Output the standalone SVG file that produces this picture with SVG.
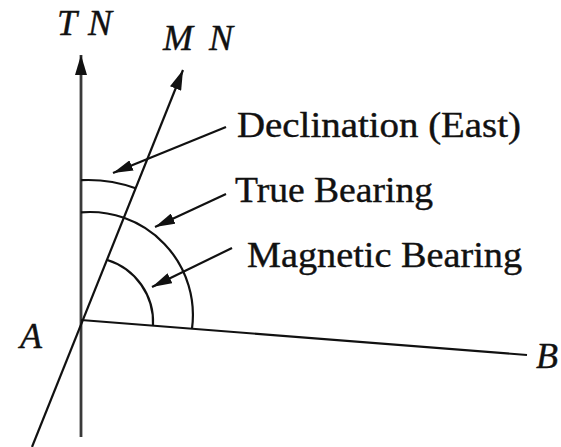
<svg xmlns="http://www.w3.org/2000/svg" width="561" height="447" viewBox="0 0 561 447">
  <defs>
    <style>
      .ln { fill: none; stroke: #111; stroke-width: 2.2; }
      .tn { fill: none; stroke: #3a3a3a; stroke-width: 2.8; }
      .arc { fill: none; stroke: #111; stroke-width: 2.2; }
      .lbl { font-family: 'Liberation Serif', 'DejaVu Serif', serif; font-size: 35px; fill: #111; stroke: #111; stroke-width: 0.4; }
      .var { font-family: 'Liberation Serif', 'DejaVu Serif', serif; font-size: 36px; font-style: italic; fill: #111; stroke: #111; stroke-width: 0.4; }
    </style>
    <marker id="ah" viewBox="-20 -6 20 12" refX="0" refY="0" markerWidth="20" markerHeight="12" markerUnits="userSpaceOnUse" orient="auto">
      <path d="M0,0 L-20,-6 L-20,6 Z" fill="#111"/>
    </marker>
    <marker id="ahs" viewBox="-20 -5.5 20 11" refX="0" refY="0" markerWidth="20" markerHeight="11" markerUnits="userSpaceOnUse" orient="auto">
      <path d="M0,0 L-20,-5.5 L-20,5.5 Z" fill="#111"/>
    </marker>
  </defs>
  <rect x="0" y="0" width="561" height="447" fill="#fff"/>

  <g id="connectors">
    <line id="tn-line" class="tn" x1="81" y1="437" x2="81" y2="55" marker-end="url(#ah)"/>
    <line id="mn-line" class="ln" x1="32" y1="447" x2="183" y2="70" marker-end="url(#ah)"/>
    <line id="ab-line" class="ln" x1="81" y1="320" x2="527" y2="355"/>
    <line id="lead-decl" class="ln" x1="226" y1="127" x2="113" y2="173" marker-end="url(#ahs)"/>
    <line id="lead-true" class="ln" x1="226" y1="194" x2="155" y2="227" marker-end="url(#ahs)"/>
    <line id="lead-mag" class="ln" x1="232" y1="248" x2="152" y2="287" marker-end="url(#ahs)"/>
  </g>

  <g id="arcs">
    <path id="arc-decl" class="arc" d="M81,180.2 A140,140 0 0 1 135.6,188.3"/>
    <path id="arc-true" class="arc" d="M81,212.4 A103,103 0 0 1 192,328.7"/>
    <path id="arc-mag" class="arc" d="M107.3,260 A65,65 0 0 1 153,325.1"/>
  </g>

  <g id="node-TN"><text class="var" font-family="Liberation Serif" x="57" y="35" textLength="55" lengthAdjust="spacing">TN</text></g>
  <g id="node-MN"><text class="var" font-family="Liberation Serif" x="163" y="50" textLength="70" lengthAdjust="spacing">MN</text></g>
  <g id="node-A"><text class="var" font-family="Liberation Serif" x="20" y="348">A</text></g>
  <g id="node-B"><text class="var" font-family="Liberation Serif" x="536" y="368">B</text></g>
  <g id="label-decl"><text class="lbl" font-family="Liberation Serif" x="237" y="137" textLength="284" lengthAdjust="spacingAndGlyphs">Declination (East)</text></g>
  <g id="label-true"><text class="lbl" font-family="Liberation Serif" x="235" y="202" textLength="198" lengthAdjust="spacingAndGlyphs">True Bearing</text></g>
  <g id="label-mag"><text class="lbl" font-family="Liberation Serif" x="247" y="267" textLength="275" lengthAdjust="spacingAndGlyphs">Magnetic Bearing</text></g>
</svg>
